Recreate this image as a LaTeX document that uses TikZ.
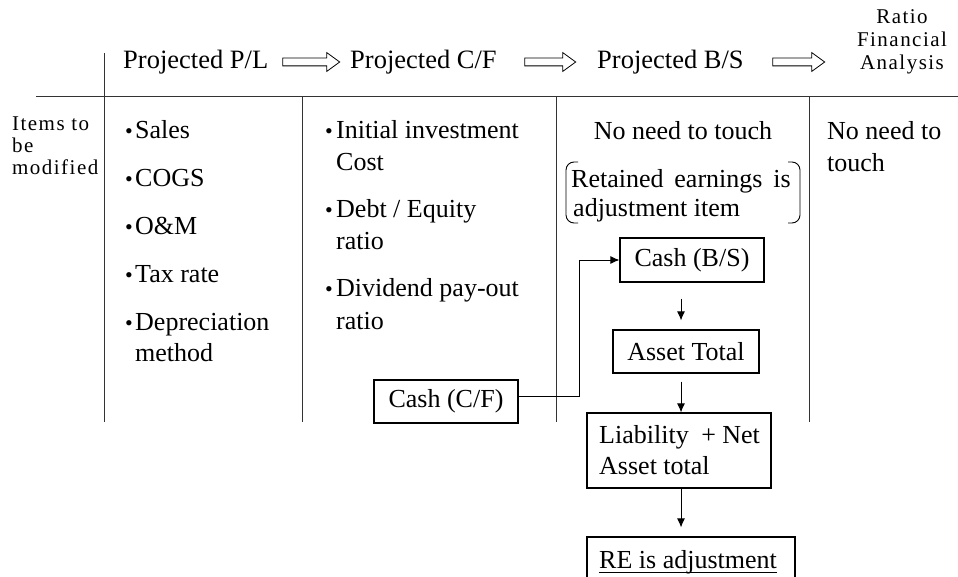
\documentclass[tikz,border=0pt]{standalone}
\usepackage{fontspec}
\setmainfont{Liberation Serif}
\newfontfamily\spacedserif[LetterSpace=7]{Liberation Serif}
\usetikzlibrary{shapes.arrows,arrows.meta}

\newcommand\bodysize{\fontsize{26}{32}\selectfont}
\newcommand\headsize{\fontsize{26.5}{32}\selectfont}
\newcommand\smallsize{\spacedserif\fontsize{21}{22}\selectfont}

\tikzset{
  txt/.style={anchor=base west, inner sep=0pt, font=\bodysize},
  ctxt/.style={anchor=base, inner sep=0pt, font=\bodysize},
  bul/.style={anchor=base, inner sep=0pt, font=\fontsize{22}{22}\selectfont},
  tablerule/.style={line width=1pt, draw=black!80},
  boxed/.style={draw, line width=1.2pt, inner sep=0pt, font=\bodysize},
  flow/.style={line width=0.9pt, -{Latex[length=9pt,width=8pt]}},
  hollow/.style={single arrow, draw, line width=0.8pt, inner sep=3.5pt,
    single arrow head extend=5.5pt, single arrow tip angle=72},
}

\begin{document}
\begin{tikzpicture}[x=1pt,y=-1pt]
\useasboundingbox (0,0) rectangle (958,577);
\clip (0,0) rectangle (958,577);

% table rules
\draw[tablerule] (36,97) -- (958,97);
\draw[tablerule] (104,53) -- (104,422);
\draw[tablerule] (302,97) -- (302,422);
\draw[tablerule] (556,97) -- (556,422);
\draw[tablerule] (809,97) -- (809,422);

% header row
\node[txt, font=\headsize] (hpl) at (123,69) {Projected P/L};
\node[txt, font=\headsize] (hcf) at (350,69) {Projected C/F};
\node[txt, font=\headsize] (hbs) at (597,69) {Projected B/S};
\node[ctxt, font=\smallsize] (hr1) at (902,24) {Ratio};
\node[ctxt, font=\smallsize] (hr2) at (902,47) {Financial};
\node[ctxt, font=\smallsize] (hr3) at (902,70) {Analysis};

\node[hollow, minimum height=57pt] (a1) at (308.5,62) {};
\node[hollow, minimum height=51pt] (a2) at (547.5,62) {};
\node[hollow, minimum height=52pt] (a3) at (796,62) {};

% row label
\node[txt, font=\smallsize] (it1) at (12,131) {Items to};
\node[txt, font=\smallsize] (it2) at (12,153) {be};
\node[txt, font=\smallsize] (it3) at (12,175) {modified};

% projected P/L items
\node[bul] (b1) at (129,139) {•};
\node[txt] (pl1) at (135,139) {Sales};
\node[bul] (b2) at (129,187) {•};
\node[txt] (pl2) at (135,187) {COGS};
\node[bul] (b3) at (129,235) {•};
\node[txt] (pl3) at (135,235) {O\&M};
\node[bul] (b4) at (129,283) {•};
\node[txt] (pl4) at (135,283) {Tax rate};
\node[bul] (b5) at (129,330) {•};
\node[txt] (pl5) at (135,330) {Depreciation};
\node[txt] (pl6) at (135,361) {method};

% projected C/F items
\node[bul] (c1) at (329,139) {•};
\node[txt] (cf1) at (336,139) {Initial investment};
\node[txt] (cf2) at (336,171) {Cost};
\node[bul] (c2) at (329,218) {•};
\node[txt] (cf3) at (336,218) {Debt / Equity};
\node[txt] (cf4) at (336,250) {ratio};
\node[bul] (c3) at (329,297) {•};
\node[txt] (cf5) at (336,297) {Dividend pay-out};
\node[txt] (cf6) at (336,329) {ratio};

% projected B/S column
\node[ctxt] (bs1) at (683,140) {No need to touch};
\node[txt] (bs2) at (571,188) {Retained\, earnings\, is};
\node[txt] (bs3) at (573,217) {adjustment item};
\draw[line width=0.9pt, rounded corners=8pt] (578,162) -- (566,162) -- (566,223) -- (578,223);
\draw[line width=0.9pt, rounded corners=8pt] (788,162) -- (800,162) -- (800,223) -- (788,223);

% ratio analysis column
\node[txt] (ra1) at (827,140) {No need to};
\node[txt] (ra2) at (827,172) {touch};

% cash flow chain
\node[boxed, minimum width=144pt, minimum height=44pt] (cashbs) at (692,260) {Cash (B/S)};
\node[boxed, minimum width=146pt, minimum height=43pt] (asset) at (686,351.5) {Asset Total};
\node[boxed, minimum width=144pt, minimum height=43pt] (cashcf) at (446,401.5) {Cash (C/F)};
\node[boxed, minimum width=184pt, minimum height=75pt] (lnbox) at (679,450.5) {};
\node[txt] (ln1) at (599,443) {Liability\hspace{6pt} + Net};
\node[txt] (ln2) at (599,474) {Asset total};
\node[boxed, minimum width=208pt, minimum height=60pt] (rebox) at (691,567) {};
\node[txt] (retext) at (599,568) {RE is adjustment};
\draw[line width=1pt] ([yshift=-4pt]retext.base west) -- ([yshift=-4pt]retext.base east);

\draw[flow] ([xshift=-11pt,yshift=-16pt]cashbs.south) -- ([xshift=-5pt,yshift=9pt]asset.north);
\draw[flow] ([xshift=-5pt,yshift=-8pt]asset.south) -- ([xshift=2pt]lnbox.north);
\draw[flow] ([xshift=2pt]lnbox.south) -- ([xshift=-10pt,yshift=9pt]rebox.north);
\draw[flow] ([yshift=5pt]cashcf.east) -- ++(61,0) |- (cashbs.west);
\end{tikzpicture}
\end{document}
